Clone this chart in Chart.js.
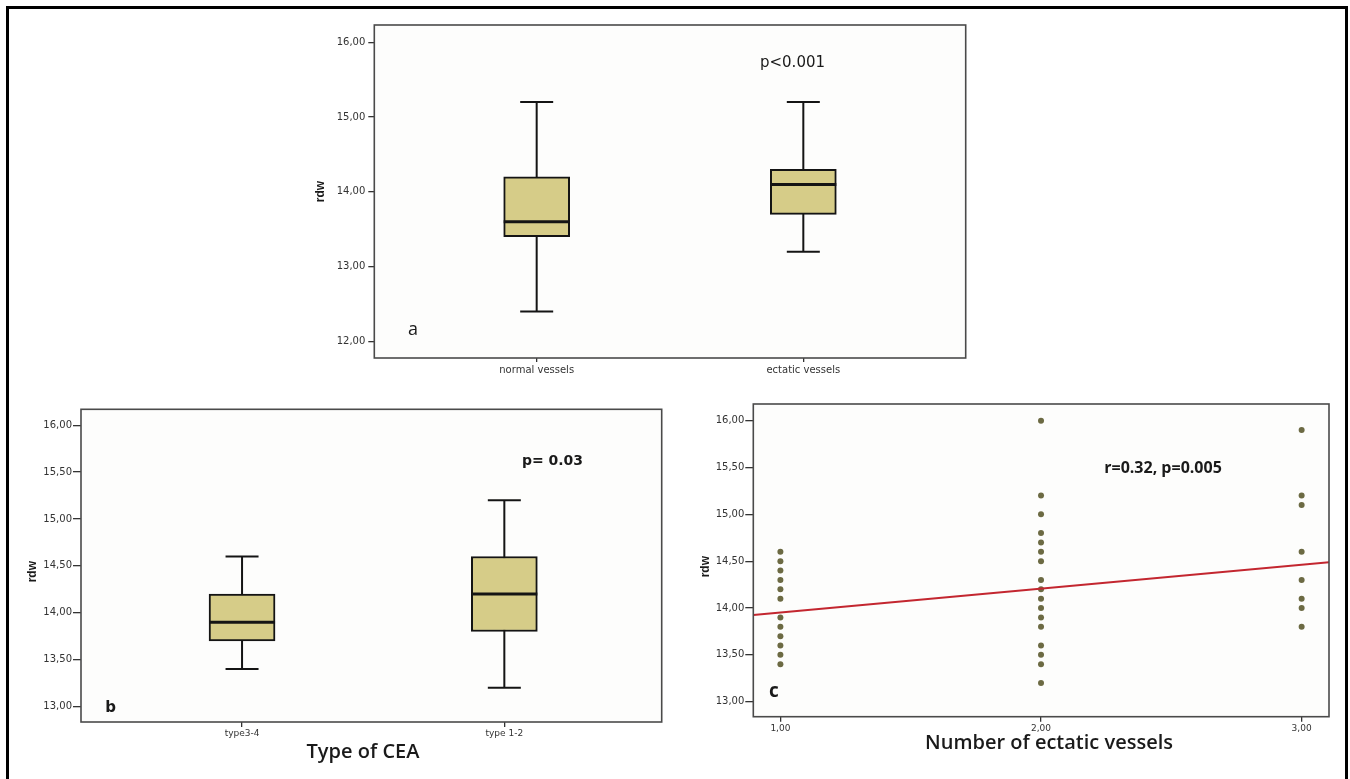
<!DOCTYPE html>
<html><head><meta charset="utf-8">
<script src="https://cdn.jsdelivr.net/npm/chart.js@4.4.1/dist/chart.umd.min.js"></script>
<style>
html,body{margin:0;padding:0;background:#fff;width:1350px;height:779px;overflow:hidden;}
#frame{position:absolute;left:6px;top:6px;width:1336px;height:800px;border:3px solid #000;}
.pane{position:absolute}
canvas{display:block}
</style></head><body>
<div id="frame"></div>
<div class="pane" style="left:300px;top:10px"><canvas id="ca" width="700" height="380"></canvas></div>
<div class="pane" style="left:20px;top:395px"><canvas id="cb" width="680" height="384"></canvas></div>
<div class="pane" style="left:690px;top:390px"><canvas id="cc" width="655" height="389"></canvas></div>
<script>
// ---------- data ----------
const catA = ['normal vessels', 'ectatic vessels'];
const minA = [12.4, 13.2];
const q1A  = [13.4, 13.7];
const medA = [13.6, 14.1];
const q3A  = [14.2, 14.3];
const maxA = [15.2, 15.2];
const ticksA = [12, 13, 14, 15, 16];

const catB = ['type3-4', 'type 1-2'];
const minB = [13.4, 13.2];
const q1B  = [13.7, 13.8];
const medB = [13.9, 14.2];
const q3B  = [14.2, 14.6];
const maxB = [14.6, 15.2];
const ticksBC = [13, 13.5, 14, 14.5, 15, 15.5, 16];

const catC = [1, 2, 3];
const rdwC1 = [14.6, 14.5, 14.4, 14.3, 14.2, 14.1, 13.9, 13.8, 13.7, 13.6, 13.5, 13.4];
const rdwC2 = [16.0, 15.2, 15.0, 14.8, 14.7, 14.6, 14.5, 14.3, 14.2, 14.1, 14.0, 13.9, 13.8, 13.6, 13.5, 13.4, 13.2];
const rdwC3 = [15.9, 15.2, 15.1, 14.6, 14.3, 14.1, 14.0, 13.8];
const fitX = [0.896, 3.105];
const fitY = [13.925, 14.488];

// ---------- helpers ----------
const fmt = v => Number(v).toFixed(2).replace('.', ',');
const BOX_FILL = '#d6cc88';
const INK = '#141414';

const framePlugin = {
  id: 'frame',
  beforeDatasetsDraw(chart) {
    const a = chart.chartArea, ctx = chart.ctx;
    ctx.save();
    ctx.fillStyle = '#fdfdfc';
    ctx.fillRect(a.left, a.top, a.right - a.left, a.bottom - a.top);
    ctx.restore();
  },
  afterDraw(chart) {
    const a = chart.chartArea, ctx = chart.ctx;
    ctx.save();
    ctx.strokeStyle = '#4a4a4a';
    ctx.lineWidth = 1.6;
    ctx.strokeRect(a.left, a.top, a.right - a.left, a.bottom - a.top);
    const notes = chart.options.plugins.notes.items || [];
    for (const n of notes) {
      ctx.save();
      ctx.font = n.font;
      ctx.fillStyle = n.color || '#1a1a1a';
      ctx.textAlign = 'center';
      ctx.textBaseline = n.baseline || 'alphabetic';
      if ('letterSpacing' in ctx) ctx.letterSpacing = (n.ls || 0) + 'px';
      ctx.translate(n.x, n.y);
      if (n.rot) ctx.rotate(n.rot);
      ctx.fillText(n.text, 0, 0);
      ctx.restore();
    }
    ctx.restore();
  }
};

function axisCommon(tickFont, tickLen, pad) {
  return {
    grid: { display: true, drawOnChartArea: false, drawTicks: true, tickLength: tickLen, color: '#333', lineWidth: 1.3, offset: false },
    border: { display: false },
    ticks: { font: tickFont, color: '#333', padding: pad, maxRotation: 0, autoSkip: false }
  };
}

function boxChart(id, cats, mins, q1s, meds, q3s, maxs, yTicks, geom, notes) {
  const whiskers = cats.map((c, i) => ({
    type: 'line', data: [{ x: i + 1, y: mins[i] }, { x: i + 1, y: maxs[i] }],
    borderColor: INK, borderWidth: 2, pointRadius: 0, order: 3
  }));
  const box = {
    type: 'bar', data: cats.map((c, i) => ({ x: i + 1, y: [q1s[i], q3s[i]] })),
    backgroundColor: BOX_FILL, borderColor: INK, borderWidth: 2, borderSkipped: false,
    barThickness: geom.boxW, order: 2
  };
  const caps = {
    type: 'line', showLine: false,
    data: cats.map((c, i) => ({ x: i + 1, y: mins[i] })).concat(cats.map((c, i) => ({ x: i + 1, y: maxs[i] }))),
    pointStyle: 'line', pointRadius: geom.boxW / 4, pointBorderWidth: 2, pointBorderColor: INK, order: 1
  };
  const medians = {
    type: 'line', showLine: false,
    data: cats.map((c, i) => ({ x: i + 1, y: meds[i] })),
    pointStyle: 'line', pointRadius: geom.boxW / 2, pointBorderWidth: 3, pointBorderColor: INK, order: 0
  };
  const xc = axisCommon(geom.xFont, geom.xTickLen, geom.xPad);
  const yc = axisCommon(geom.yFont, geom.yTickLen, geom.yPad);
  return new Chart(document.getElementById(id), {
    type: 'bar',
    data: { datasets: [whiskers[0], whiskers[1], box, caps, medians] },
    options: {
      responsive: false, animation: false, events: [],
      layout: { padding: geom.padding, autoPadding: false },
      plugins: { legend: { display: false }, tooltip: { enabled: false }, notes: { items: notes } },
      scales: {
        x: Object.assign({}, xc, {
          type: 'linear', min: geom.xMin, max: geom.xMax, offset: false,
          afterBuildTicks: s => { s.ticks = cats.map((c, i) => ({ value: i + 1 })); },
          afterFit: s => { s.height = geom.xH; },
          ticks: Object.assign({}, xc.ticks, { callback: (v, i) => cats[i] })
        }),
        y: Object.assign({}, yc, {
          type: 'linear', min: geom.yMin, max: geom.yMax, beginAtZero: false,
          afterBuildTicks: s => { s.ticks = yTicks.map(v => ({ value: v })); },
          afterFit: s => { s.width = geom.yW; },
          ticks: Object.assign({}, yc.ticks, { callback: v => fmt(v) })
        })
      }
    },
    plugins: [framePlugin]
  });
}

const tickF10 = { family: 'DejaVu Sans', size: 10 };
const tickF9 = { family: 'DejaVu Sans', size: 9 };

// Panel a
boxChart('ca', catA, minA, q1A, medA, q3A, maxA, ticksA, {
  boxW: 66, xMin: 0.391, xMax: 2.609, yMin: 11.78, yMax: 16.23,
  padding: { left: 0, top: 15, right: 34.3, bottom: 0 }, yW: 74.3, xH: 32,
  xFont: tickF10, yFont: tickF10, xTickLen: 4, xPad: 2, yTickLen: 6, yPad: 3
}, [
  { text: 'rdw', x: 21, y: 181.5, rot: -Math.PI / 2, font: 'bold 12px "Liberation Sans"', baseline: 'middle' },
  { text: 'p<0.001', x: 492.5, y: 56.7, font: '15px "DejaVu Sans"' },
  { text: 'a', x: 113, y: 325, font: '18px "Open Sans"' }
]);

// Panel b
boxChart('cb', catB, minB, q1B, medB, q3B, maxB, ticksBC, {
  boxW: 66, xMin: 0.386, xMax: 2.6, yMin: 12.835, yMax: 16.17,
  padding: { left: 0, top: 14.3, right: 38.3, bottom: 0 }, yW: 61, xH: 57,
  xFont: tickF9, yFont: tickF10, xTickLen: 5, xPad: 1, yTickLen: 8, yPad: 1
}, [
  { text: 'rdw', x: 13, y: 176.7, rot: -Math.PI / 2, font: 'bold 12px "Liberation Sans"', baseline: 'middle' },
  { text: 'p= 0.03', x: 532.5, y: 70, font: 'bold 14px "DejaVu Sans"' },
  { text: 'b', x: 90.5, y: 316.7, font: 'bold 15px "DejaVu Sans"' },
  { text: 'Type of CEA', x: 343, y: 363, font: '600 20px "Open Sans"' }
]);

// Panel c
const scatterPts = [rdwC1, rdwC2, rdwC3].flatMap((col, i) => col.map(v => ({ x: catC[i], y: v })));
const xcC = axisCommon(tickF9, 5, 2);
const ycC = axisCommon(tickF10, 8, 1);
new Chart(document.getElementById('cc'), {
  type: 'scatter',
  data: {
    datasets: [
      { type: 'line', data: fitX.map((x, i) => ({ x, y: fitY[i] })), borderColor: '#c3262f', borderWidth: 2, pointRadius: 0, order: 0 },
      { type: 'scatter', data: scatterPts, pointRadius: 3, backgroundColor: '#6c6a43', borderWidth: 0, order: 1 }
    ]
  },
  options: {
    responsive: false, animation: false, events: [],
    layout: { padding: { left: 0, top: 14, right: 16, bottom: 0 }, autoPadding: false },
    plugins: {
      legend: { display: false }, tooltip: { enabled: false },
      notes: {
        items: [
          { text: 'rdw', x: 15.5, y: 176.7, rot: -Math.PI / 2, font: 'bold 12px "Liberation Sans"', baseline: 'middle' },
          { text: 'r=0.32, p=0.005', x: 473, y: 83.3, font: 'bold 16px "Open Sans"' },
          { text: 'c', x: 84, y: 306.7, font: 'bold 19px "Open Sans"' },
          { text: 'Number of ectatic vessels', x: 359, y: 359, font: '600 20px "Open Sans"' }
        ]
      }
    },
    scales: {
      x: Object.assign({}, xcC, {
        type: 'linear', min: 0.896, max: 3.105, offset: false,
        afterBuildTicks: s => { s.ticks = catC.map(v => ({ value: v })); },
        afterFit: s => { s.height = 62.3; },
        ticks: Object.assign({}, xcC.ticks, { callback: v => fmt(v) })
      }),
      y: Object.assign({}, ycC, {
        type: 'linear', min: 12.84, max: 16.178,
        afterBuildTicks: s => { s.ticks = ticksBC.map(v => ({ value: v })); },
        afterFit: s => { s.width = 63.3; },
        ticks: Object.assign({}, ycC.ticks, { callback: v => fmt(v) })
      })
    }
  },
  plugins: [framePlugin]
});
</script>
</body></html>
